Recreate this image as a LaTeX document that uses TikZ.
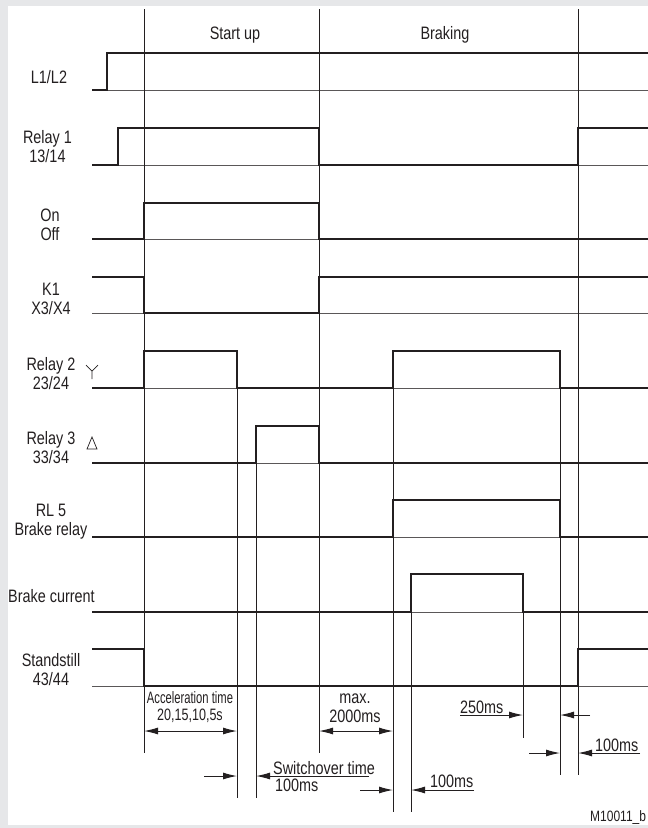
\documentclass[tikz,border=0pt]{standalone}
\usepackage{fontspec}
\setmainfont{Liberation Sans}[FakeStretch=0.8]
\usetikzlibrary{arrows.meta}
\definecolor{ink}{HTML}{231F20}
\definecolor{bggray}{HTML}{E6E7E9}
\begin{document}
\begin{tikzpicture}[x=1pt,y=-1pt,>={Latex[length=14pt,width=7pt]},
    font=\fontsize{18}{19}\selectfont, line join=miter,
    sig/.style={line width=1.6pt,draw=ink},
    base/.style={line width=0.7pt,draw=ink!75},
    tline/.style={line width=0.8pt,draw=ink},
    dim/.style={line width=1pt,draw=ink},
    lbl/.style={text=ink,inner sep=0pt,align=center}]
    % background and frame
    \fill[bggray] (0,0) rectangle (648,828);
    \fill[white] (8,6) rectangle (648,825);
    \useasboundingbox (0,0) rectangle (648,828);
    % instants
    \def\tA{144} \def\tB{237} \def\tC{256} \def\tD{319} \def\tE{393}
    \def\tF{411} \def\tG{523} \def\tH{560} \def\tI{578}
    \def\xl{92} \def\xr{648}
    % thin base lines of the rows
    \foreach \y in {90,165,239,313,388,463,537,612,686}
    \draw[base] (\xl,\y)--(\xr,\y);
    % time lines
    \foreach \x/\a/\b in {\tA/9/753,\tD/9/753,\tI/9/775,\tB/351/798,\tC/426/798,
        \tE/351/812,\tF/574/812,\tG/574/738,\tH/351/775}
    \draw[tline] (\x,\a)--(\x,\b);
    % signals
    \draw[sig] (\xl,90)-|(107,53)--(\xr,53);
    \draw[sig] (\xl,165)-|(118,128)-|(\tD,165)-|(\tI,128)--(\xr,128);
    \draw[sig] (\xl,239)-|(\tA,203)-|(\tD,239)--(\xr,239);
    \draw[sig] (\xl,277)-|(\tA,313)-|(\tD,277)--(\xr,277);
    \draw[sig] (\xl,388)-|(\tA,351)-|(\tB,388)-|(\tE,351)-|(\tH,388)--(\xr,388);
    \draw[sig] (\xl,463)-|(\tC,426)-|(\tD,463)--(\xr,463);
    \draw[sig] (\xl,537)-|(\tE,500)-|(\tH,537)--(\xr,537);
    \draw[sig] (\xl,612)-|(\tF,574)-|(\tG,612)--(\xr,612);
    \draw[sig] (\xl,649)-|(\tA,686)-|(\tI,649)--(\xr,649);
    % star and delta signs
    \draw[base,draw=ink] (86,365)--(92,371)--(98,365) (92,371)--(92,379);
    \draw[base,draw=ink] (92,437)--(97,449)--(87,449)--cycle;
    % headings and row names
    \node[lbl] (startup) at (235,35) {Start up};
    \node[lbl] (braking) at (445,35) {Braking};
    \foreach \n/\x/\y/\t in {mains/49/77/{L1/L2},relA/47.5/147/{Relay 1\\13/14},
        onoff/50/225/{On\\Off},kone/51/299/{K1\\X3/X4},relB/51/374/{Relay 2\\23/24},
        relC/51/448/{Relay 3\\33/34},rlfive/51/522/{RL 5\\Brake relay},
        still/51/670/{Standstill\\43/44}}
    \node[lbl] (\n) at (\x,\y) {\t};
    \node[lbl,anchor=west] (brcur) at (8,596) {Brake current};
    % times
    \node[lbl,font=\fontsize{16.5}{17}\selectfont] (acc) at (190,707)
        {\scalebox{0.85}[1]{Acceleration time}\\\scalebox{0.95}[1]{20,15,10,5s}};
    \node[lbl] (maxt) at (355,708) {max.\\2000ms};
    \node[lbl,anchor=base west] (swo) at (273,774) {Switchover time};
    \node[lbl,anchor=base west] (swms) at (275,791) {100ms};
    \node[lbl,anchor=base west] (onms) at (430,787) {100ms};
    \node[lbl,anchor=base west] (offms) at (460,713) {250ms};
    \node[lbl,anchor=base west] (endms) at (595,751) {100ms};
    \node[lbl,anchor=base west,font=\fontsize{15}{16}\selectfont] (code) at (590,821) {M10011\_b};
    \draw[dim,<->] (\tA,731)--(\tB,731);
    \draw[dim,<->] (\tD,731)--(\tE,731);
    \draw[dim,->] (204,776)--(\tB,776);
    \draw[dim,->] (369,776)--(\tC,776);
    \draw[dim,->] (360,790)--(\tE,790);
    \draw[dim,->] (474,790)--(\tF,790);
    \draw[dim,->] (460,715)--(\tG,715);
    \draw[dim,->] (590,715)--(\tH,715);
    \draw[dim,->] (529,753)--(\tH,753);
    \draw[dim,->] (640,753)--(\tI,753);
\end{tikzpicture}
\end{document}
